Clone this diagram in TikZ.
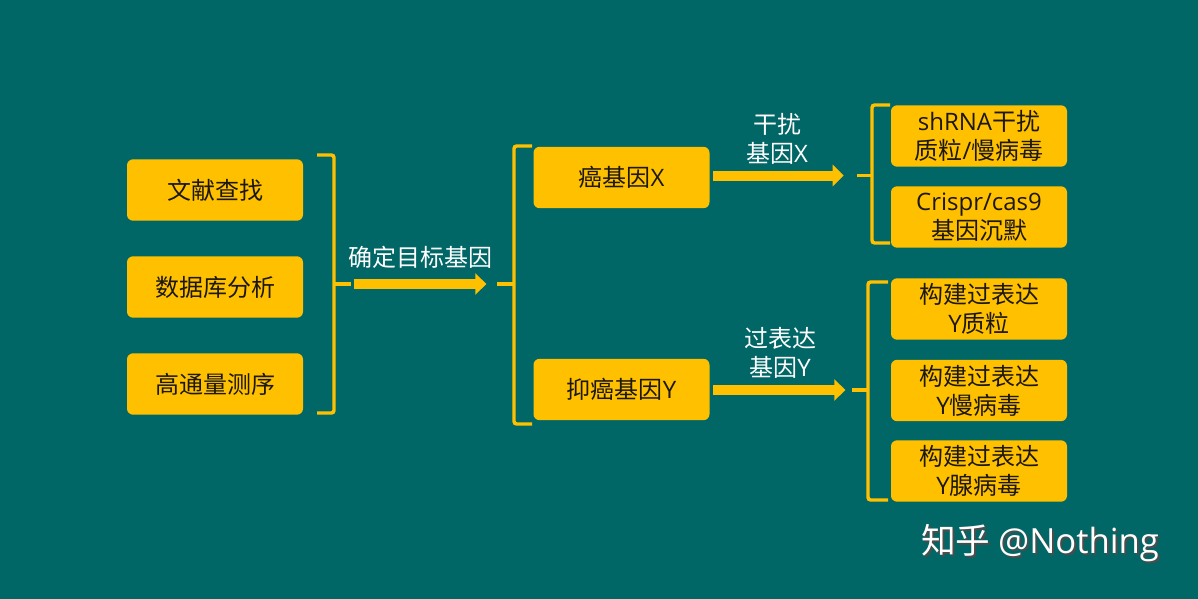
\documentclass[tikz,border=0pt]{standalone}
\usepackage{fontspec}
\setmainfont{Noto Sans CJK SC}
\newfontfamily\lat{Open Sans}
\usetikzlibrary{arrows.meta}

\definecolor{bgteal}{RGB}{0,102,102}
\definecolor{boxgold}{RGB}{255,192,0}
\definecolor{ink}{RGB}{28,24,16}

\tikzset{every picture/.style={line width=0.75pt}}
\tikzset{
  genebox/.style={fill=boxgold, rounded corners=4.5pt, minimum width=132pt, minimum height=46pt,
    inner sep=0pt, align=center, text=ink, font=\fontsize{18}{21.75}\selectfont},
  steplabel/.style={text=white, align=center, font=\fontsize{18}{21.75}\selectfont},
  bracket/.style={draw=boxgold, line width=2.6pt, rounded corners=2pt},
  fatarrow/.style={draw=boxgold, line width=7.5pt, -{Triangle[width=15.75pt,length=8.25pt]}},
}

\begin{document}
\begin{tikzpicture}[x=0.75pt,y=0.75pt,yscale=-1,xscale=1]
	%Background
	\fill [bgteal] (0,0) rectangle (1198,599) ;
	\useasboundingbox (0,0) rectangle (1198,599) ;

	%Rounded Rect: sources
	\node [genebox] (lit) at (215,190) {文献查找};
	\node [genebox] (db) at (215,287) {数据库分析};
	\node [genebox] (seq) at (215,384) {高通量测序};
	%Rounded Rect: genes
	\node [genebox] (onco) at (621.5,177.5) {癌基因{\lat X}};
	\node [genebox] (supp) at (621.5,389.5) {抑癌基因{\lat Y}};
	%Rounded Rect: knock down
	\node [genebox] (shrna) at (979,136) {{\lat shRNA}干扰\\质粒{\lat /}慢病毒};
	\node [genebox] (crispr) at (979,217) {{\lat Crispr/cas9}\\基因沉默};
	%Rounded Rect: over expression
	\node [genebox] (ovplas) at (979,309) {构建过表达\\{\lat Y}质粒};
	\node [genebox] (ovlenti) at (979,390.5) {构建过表达\\{\lat Y}慢病毒};
	\node [genebox] (ovadeno) at (979,471) {构建过表达\\{\lat Y}腺病毒};

	%Brackets
	\draw [bracket] (317,155) -- (334,155) -- (334,413) -- (317,413) ;
	\draw [bracket] (334,284) -- (351,284) coordinate (srcbr) ;
	\draw [bracket] (532,146) -- (514,146) -- (514,424) -- (532,424) ;
	\draw [bracket] (514,284) -- (497,284) coordinate (genebr) ;
	\draw [bracket] (890,105) -- (872,105) -- (872,243) -- (890,243) ;
	\draw [bracket] (872,175.5) -- (857,175.5) coordinate (kdbr) ;
	\draw [bracket] (888,282) -- (868,282) -- (868,500) -- (888,500) ;
	\draw [bracket] (868,390) -- (852,390) coordinate (ovbr) ;

	%Straight Lines: arrows
	\draw [fatarrow] ([xshift=2]srcbr) -- ([xshift=-8]genebr) ;
	\draw [fatarrow] (onco.east |- kdbr) ++(3,0) -- ([xshift=-10]kdbr) ;
	\draw [fatarrow] (supp.east |- ovbr) ++(3,0) -- ([xshift=-5]ovbr) ;

	% Text Node
	\node [steplabel] (goal) at (420,257) {确定目标基因};
	\node [steplabel] (kd) at (777,138.5) {干扰\\基因{\lat X}};
	\node [steplabel] (ov) at (780,352.5) {过表达\\基因{\lat Y}};

	% Text Node: watermark
	\node [text=black!70, font=\fontsize{26}{30}\selectfont] at (1042,545) {知乎 {\lat @Nothing}};
	\node [text=white, font=\fontsize{26}{30}\selectfont] (mark) at (1040,543) {知乎 {\lat @Nothing}};
\end{tikzpicture}
\end{document}
